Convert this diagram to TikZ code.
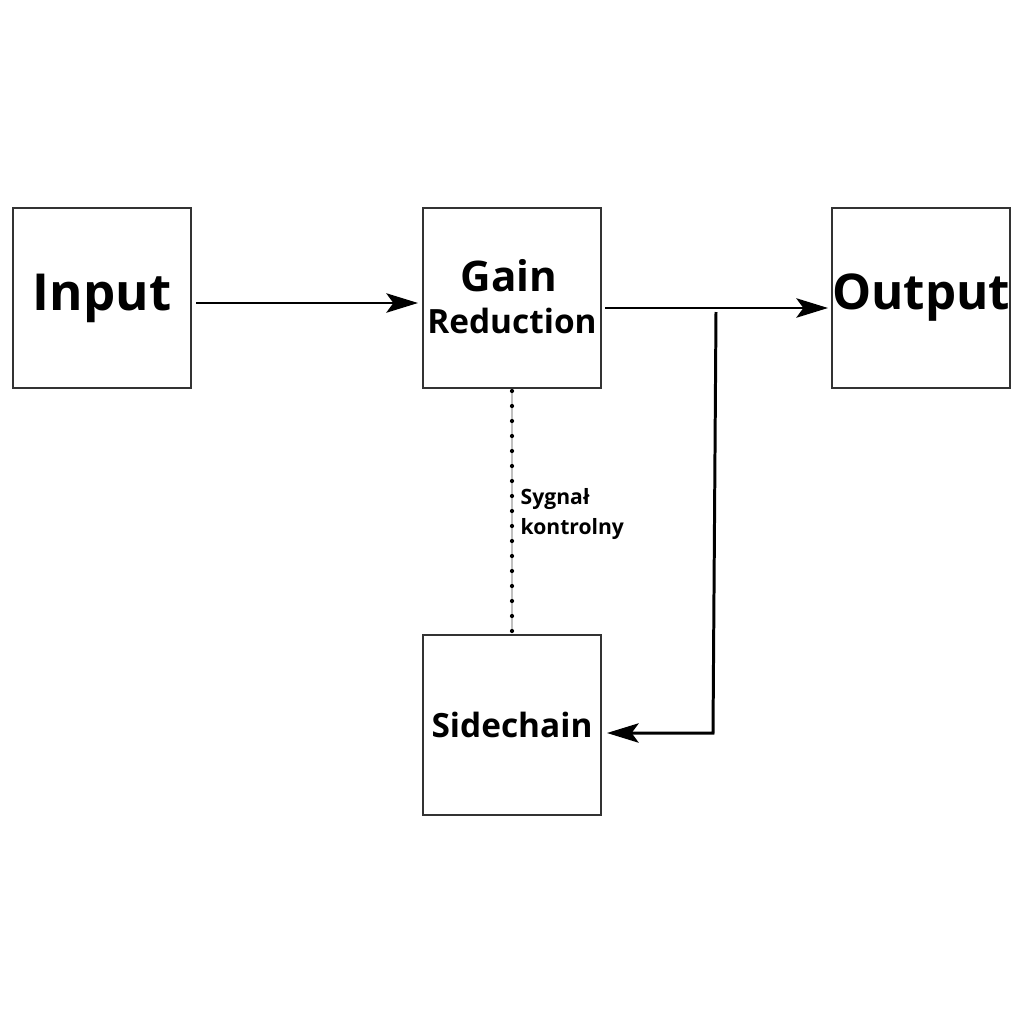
\documentclass[tikz,border=0pt]{standalone}
\usepackage{fontspec}
\setmainfont{Open Sans}
\usetikzlibrary{arrows.meta}
\begin{document}
\begin{tikzpicture}[x=0.01cm,y=-0.01cm,
  box/.style={draw=black!80,line width=0.6pt,minimum width=178*0.01cm,minimum height=180*0.01cm,inner sep=0pt,font=\bfseries},
  arr/.style={line width=0.85pt,-{Stealth[length=9pt,width=5.5pt,inset=2pt]}}]
\useasboundingbox (0,0) rectangle (1024,1024);
\node[box,font=\bfseries\fontsize{14.5}{16}\selectfont] (in) at (102,298) {};
\node[font=\bfseries\fontsize{14.5}{16}\selectfont] (intxt) at (102,298) {Input};
\node[box] (gain) at (512,298) {};
\node[font=\bfseries\fontsize{12}{13}\selectfont] (gt) at (509,276) {Gain};
\node[font=\bfseries\fontsize{9.5}{11}\selectfont] (rt) at (512,321) {Reduction};
\node[box] (out) at (921,298) {};
\node[font=\bfseries\fontsize{14}{16}\selectfont] (ot) at (921,298) {Output};
\node[box] (side) at (512,725) {};
\node[font=\bfseries\fontsize{9.5}{11}\selectfont] (st) at (512,725) {Sidechain};
\coordinate (a1) at (196,303); \coordinate (a2) at (418,303);
\draw[arr] (a1) -- (a2);
\coordinate (b1) at (605,308); \coordinate (b2) at (828,308);
\draw[arr] (b1) -- (b2);
\coordinate (c1) at (716,312); \coordinate (c2) at (713,733); \coordinate (c3) at (607,733);
\draw[arr] (c1) -- (c2) -- (c3);
\coordinate (d1) at (512,391); \coordinate (d2) at (512,632);
\draw[gray!50,line width=0.3pt] (d1) -- (d2);
\draw[line width=1.2pt,line cap=round,dash pattern=on 0pt off 15*0.01cm] (d1) -- (d2);
\node[anchor=north west,align=left,font=\bfseries\fontsize{6}{8.5}\selectfont,inner sep=0pt] (lab) at (520,488) {Sygnał\\kontrolny};
\end{tikzpicture}
\end{document}
